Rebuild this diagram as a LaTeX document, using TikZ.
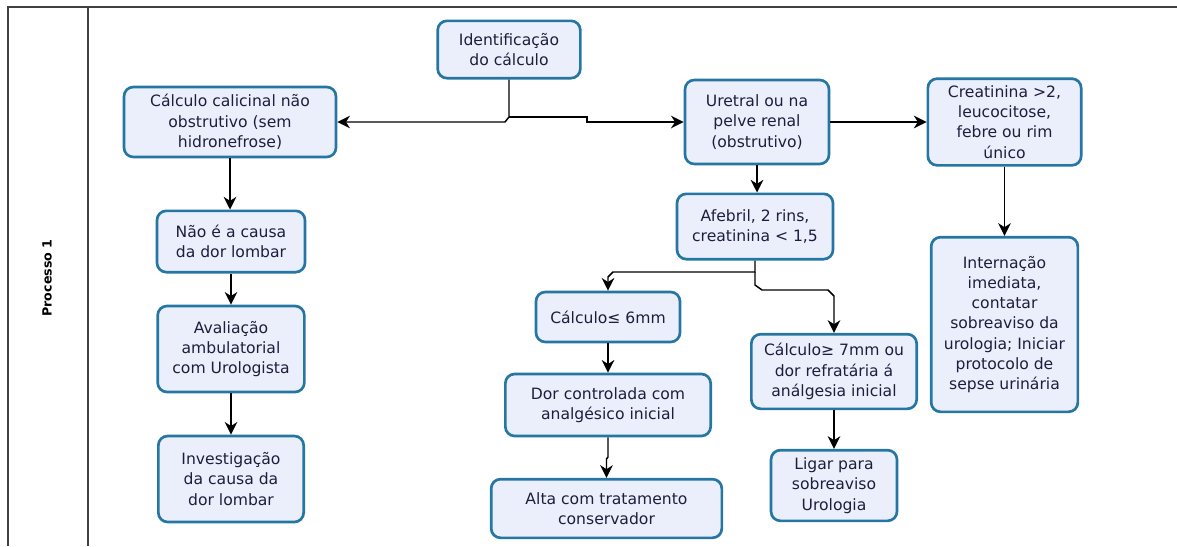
\documentclass[tikz,border=0pt]{standalone}
\usepackage{fontspec}
\setmainfont{DejaVu Sans}
\usetikzlibrary{arrows.meta}
\definecolor{boxfill}{HTML}{EBEFFC}
\definecolor{boxline}{HTML}{2676A3}
\definecolor{boxtext}{HTML}{1E1E3C}
\begin{document}
\begin{tikzpicture}[x=0.75pt, y=-0.75pt,
   box/.style={draw=boxline, line width=2pt, fill=boxfill, rounded corners=7pt,
      align=center, text=boxtext, inner sep=2pt, font=\fontsize{11.7}{15.2}\selectfont},
   conn/.style={line width=1.1pt, -{Stealth[length=9.5pt, width=9.5pt, inset=3pt]}}]
   \useasboundingbox (0,0) rectangle (1177,546);
   % frame
   \draw [line width=1.2pt, black!75] (1177,7) -- (8,7) -- (8,546);
   \draw [line width=1.2pt, black!75] (88,7) -- (88,546);
   \node (lane) [rotate=90, font=\bfseries\fontsize{9.5}{11}\selectfont] at (47,278) {Processo 1};
   % boxes
   \node (ident) [box, minimum width=107pt, minimum height=43pt] at (509,49.5) {Identificação\\do cálculo};
   \node (calic) [box, minimum width=159pt, minimum height=52.5pt] at (230,122) {Cálculo calicinal não\\obstrutivo (sem\\hidronefrose)};
   \node (uret) [box, minimum width=108pt, minimum height=63pt] at (757,122) {Uretral ou na\\pelve renal\\(obstrutivo)};
   \node (creat) [box, minimum width=115pt, minimum height=65pt] at (1004.5,122) {Creatinina >2,\\leucocitose,\\febre ou rim\\único};
   \node (nao) [box, minimum width=111pt, minimum height=46pt] at (231,241.5) {Não é a causa\\da dor lombar};
   \node (afeb) [box, minimum width=117pt, minimum height=49pt] at (755,226.5) {Afebril, 2 rins,\\creatinina < 1,5};
   \node (intern) [box, minimum width=110pt, minimum height=131pt] at (1004.5,324.5) {Internação\\imediata,\\contatar\\sobreaviso da\\urologia; Iniciar\\protocolo de\\sepse urinária};
   \node (aval) [box, minimum width=110pt, minimum height=64.5pt] at (231,349) {Avaliação\\ambulatorial\\com Urologista};
   \node (le6) [box, minimum width=108pt, minimum height=37.5pt] at (608,317) {Cálculo≤ 6mm};
   \node (ge7) [box, minimum width=124pt, minimum height=56pt] at (834,371.5) {Cálculo≥ 7mm ou\\dor refratária á\\análgesia inicial};
   \node (invest) [box, minimum width=109pt, minimum height=64.5pt] at (231,479) {Investigação\\da causa da\\dor lombar};
   \node (dorc) [box, minimum width=154pt, minimum height=46.5pt] at (608,405) {Dor controlada com\\analgésico inicial};
   \node (ligar) [box, minimum width=94.5pt, minimum height=53pt] at (834,485.5) {Ligar para\\sobreaviso\\Urologia};
   \node (alta) [box, minimum width=173pt, minimum height=44pt] at (606.5,508.5) {Alta com tratamento\\conservador};
   % connectors
   \draw [conn] (ident.south) -- (509,117) -- (505,122) -- (calic.east);
   \draw [conn] (509,117) -- (587,117) -- (587,122) -- (uret.west);
   \draw [conn] (uret.east) -- (creat.west);
   \draw [conn] (uret.south) -- (uret.south |- afeb.north);
   \draw [conn] (creat.south) -- (intern.north);
   \draw [conn] (afeb.south) -- (755,272) -- (613,272) -- (608,277) -- (le6.north);
   \draw [conn] (755,272) -- (755,285) -- (762,290) -- (828,290) -- (834,296) -- (ge7.north);
   \draw [conn] (le6.south) -- (dorc.north);
   \draw [conn] (dorc.south) -- (608,457) -- (606.5,459) -- (alta.north);
   \draw [conn] (ge7.south) -- (ligar.north);
   \draw [conn] (calic.south) -- (calic.south |- nao.north);
   \draw [conn] (nao.south) -- (nao.south |- aval.north);
   \draw [conn] (aval.south) -- (invest.north);
\end{tikzpicture}
\end{document}
